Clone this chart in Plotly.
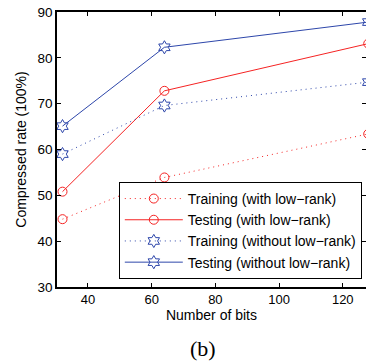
import plotly.graph_objects as go

bits = [32, 64, 128]
train_lr = [44.8, 53.9, 63.4]
test_lr = [50.8, 72.8, 83.1]
train_nolr = [59.0, 69.6, 74.7]
test_nolr = [65.1, 82.3, 87.8]

names = ["Training (with low−rank)", "Testing (with low−rank)",
         "Training (without low−rank)", "Testing (without low−rank)"]

red = "rgb(245,35,35)"
blue = "rgb(45,70,170)"

fig = go.Figure()
specs = [
    (train_lr, red, "1px,4px", "circle-open", 9),
    (test_lr, red, "solid", "circle-open", 9),
    (train_nolr, blue, "1px,4px", "hexagram-open", 10),
    (test_nolr, blue, "solid", "hexagram-open", 10),
]
for (vals, col, dash, sym, sz), nm in zip(specs, names):
    fig.add_trace(go.Scatter(
        x=bits, y=vals, name=nm, mode="lines+markers",
        line=dict(color=col, width=1, dash=dash),
        marker=dict(symbol=sym, size=sz, color=col, line=dict(color=col, width=1)),
        legendgroup=nm,
    ))

fig.update_layout(
    width=366, height=362,
    margin=dict(l=57, r=0, t=12, b=75, autoexpand=False),
    paper_bgcolor="white", plot_bgcolor="white",
    font=dict(family="Liberation Sans, Arial, sans-serif", size=13, color="black"),
    showlegend=True,
    legend=dict(x=0.2, y=0.382, xanchor="left", yanchor="top",
                bgcolor="white", bordercolor="black", borderwidth=1,
                font=dict(size=14), tracegroupgap=0,
                itemwidth=58),
    xaxis=dict(range=[30.27, 127.3], tickvals=[40, 60, 80, 100, 120],
               ticks="inside", ticklen=4, tickcolor="black",
               showline=True, linecolor="black", linewidth=1.5, mirror="ticks",
               showgrid=False, zeroline=False,
               title=dict(text="Number of bits", standoff=3, font=dict(size=14)),
               tickfont=dict(size=13)),
    yaxis=dict(range=[30, 90], tickvals=[30, 40, 50, 60, 70, 80, 90],
               ticks="inside", ticklen=4, tickcolor="black",
               showline=True, linecolor="black", linewidth=1.5, mirror="ticks",
               showgrid=False, zeroline=False,
               title=dict(text="Compressed rate (100%)", standoff=8, font=dict(size=14)),
               tickfont=dict(size=13.5)),
    annotations=[dict(text="(b)", xref="paper", yref="paper", x=0.474, y=-0.222,
                      xanchor="center", yanchor="middle", showarrow=False,
                      font=dict(family="Liberation Serif, Times New Roman, serif", size=22))],
)

fig.write_html("out.html", config={"displayModeBar": False},
               post_script="document.body.style.margin='0';document.body.style.overflow='hidden';")
